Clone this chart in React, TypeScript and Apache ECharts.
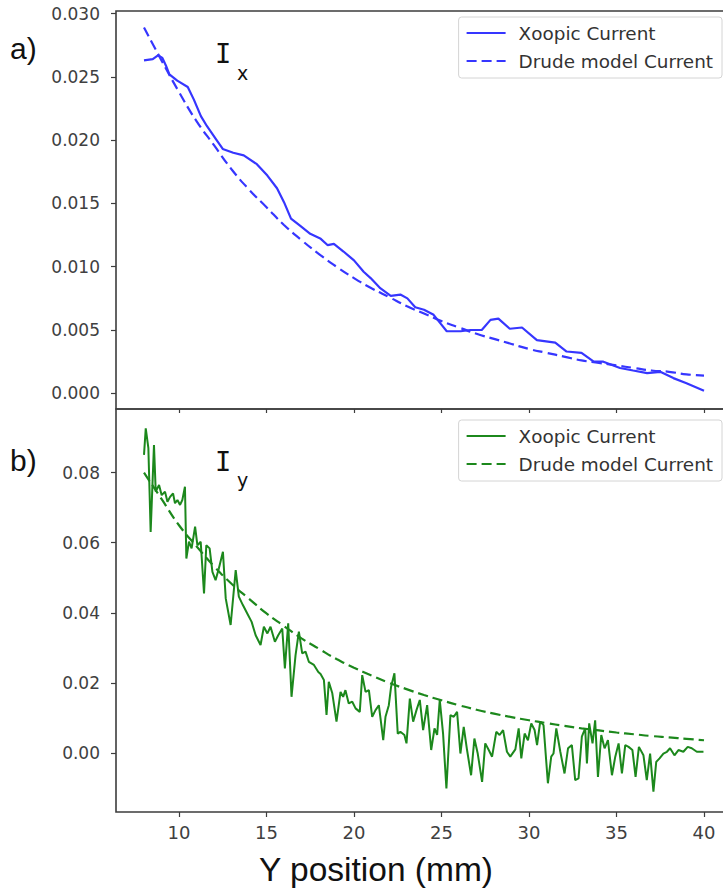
import { useEffect, useRef } from "react";
import * as echarts from "echarts";

// Y position (mm) of each sample of the simulated x-current
const ixPos = [
  8.0, 8.5, 8.8, 9.05, 9.25, 9.45, 9.9, 10.5, 10.85, 11.25, 11.6, 12.1, 12.5, 13.1, 13.7, 14.45,
  15.05, 15.6, 16.0, 16.4, 16.95, 17.5, 18.1, 18.5, 18.85, 19.4, 20.0, 20.55, 20.95, 21.5, 22.1,
  22.65, 23.05, 23.5, 24.0, 24.55, 24.95, 25.3, 26.1, 26.65, 27.3, 27.8, 28.25, 28.9, 29.6, 30.45,
  31.5, 32.15, 33.0, 33.7, 34.25, 35.2, 35.95, 36.75, 37.5, 38.25, 39.0, 40.0,
];
const ixXoopic = [
  0.0263, 0.0264, 0.0267, 0.0265, 0.0259, 0.0252, 0.0247, 0.0242, 0.0232, 0.0219, 0.0211, 0.0201,
  0.0193, 0.019, 0.0188, 0.0181, 0.0172, 0.0162, 0.0151, 0.0138, 0.0132, 0.0126, 0.0122, 0.0117,
  0.0118, 0.0112, 0.0105, 0.0096, 0.0091, 0.0083, 0.0077, 0.0078, 0.0075, 0.0068, 0.0066, 0.0062,
  0.0055, 0.0049, 0.0049, 0.005, 0.005, 0.0058, 0.0059, 0.0051, 0.0052, 0.0042, 0.004, 0.0033,
  0.0032, 0.0025, 0.0025, 0.002, 0.0018, 0.0016, 0.0017, 0.0012, 0.0008, 0.0002,
];

// Drude model, sampled every millimetre
const drudePos = [
  8, 9, 10, 11, 12, 13, 14, 15, 16, 17, 18, 19, 20, 21, 22, 23, 24, 25, 26, 27, 28, 29, 30, 31,
  32, 33, 34, 35, 36, 37, 38, 39, 40,
];
const ixDrude = [
  0.0289, 0.0263, 0.0238, 0.0215, 0.0196, 0.0177, 0.0161, 0.0147, 0.0133, 0.0121, 0.011, 0.01,
  0.0091, 0.0083, 0.0076, 0.0069, 0.0063, 0.0057, 0.0052, 0.0047, 0.0043, 0.0039, 0.0035, 0.0032,
  0.0029, 0.0026, 0.0024, 0.0022, 0.002, 0.0018, 0.0017, 0.0015, 0.0014,
];
const iyDrude = [
  0.08, 0.0725, 0.065, 0.059, 0.0533, 0.0483, 0.044, 0.0398, 0.0362, 0.0327, 0.0297, 0.0268,
  0.0243, 0.0221, 0.02, 0.0182, 0.0165, 0.015, 0.0136, 0.0123, 0.0112, 0.0102, 0.0093, 0.0085,
  0.0077, 0.007, 0.0064, 0.0058, 0.0053, 0.0048, 0.0044, 0.004, 0.0036,
];

// Simulated y-current
const iyPos = [
  8.0, 8.1, 8.25, 8.38, 8.57, 8.67, 8.86, 9.01, 9.2, 9.34, 9.49, 9.66, 9.77, 9.91, 10.06, 10.19,
  10.34, 10.42, 10.57, 10.72, 10.92, 11.05, 11.24, 11.43, 11.56, 11.75, 11.91, 12.09, 12.28, 12.51,
  12.67, 12.95, 13.24, 13.42, 13.65, 13.9, 14.15, 14.38, 14.66, 14.85, 15.05, 15.23, 15.48, 15.67,
  15.9, 16.05, 16.24, 16.43, 16.66, 16.85, 17.04, 17.23, 17.42, 17.71, 17.96, 18.09, 18.28, 18.43,
  18.56, 18.76, 19.0, 19.23, 19.38, 19.51, 19.7, 19.9, 20.09, 20.33, 20.47, 20.66, 20.85, 21.04,
  21.23, 21.42, 21.67, 21.8, 21.99, 22.12, 22.31, 22.5, 22.65, 22.88, 23.0, 23.19, 23.38, 23.57,
  23.76, 23.95, 24.18, 24.41, 24.6, 24.75, 24.9, 25.09, 25.28, 25.51, 25.7, 25.89, 26.08, 26.27,
  26.46, 26.69, 26.88, 27.07, 27.32, 27.5, 27.7, 27.89, 28.13, 28.32, 28.52, 28.74, 28.93, 29.22,
  29.41, 29.56, 29.75, 29.94, 30.13, 30.32, 30.46, 30.64, 30.83, 31.08, 31.27, 31.4, 31.56, 31.79,
  32.03, 32.23, 32.45, 32.64, 32.83, 33.02, 33.21, 33.31, 33.44, 33.63, 33.78, 33.94, 34.13, 34.32,
  34.51, 34.74, 34.93, 35.12, 35.31, 35.5, 35.69, 35.91, 36.09, 36.28, 36.54, 36.73, 36.92, 37.11,
  37.27, 37.46, 37.68, 37.88, 38.06, 38.31, 38.54, 38.82, 39.07, 39.3, 39.59, 39.97,
];
const iyXoopic = [
  0.0851, 0.0927, 0.087, 0.0631, 0.0879, 0.0746, 0.0765, 0.0736, 0.0746, 0.0717, 0.0731, 0.0741,
  0.0713, 0.0722, 0.0708, 0.0722, 0.076, 0.0555, 0.0603, 0.0584, 0.0646, 0.0593, 0.0603, 0.0455,
  0.0593, 0.0584, 0.0517, 0.0493, 0.0527, 0.0574, 0.0441, 0.0365, 0.0522, 0.0446, 0.0422, 0.0398,
  0.0374, 0.0336, 0.0308, 0.036, 0.0341, 0.036, 0.0317, 0.0336, 0.0355, 0.0241, 0.037, 0.016,
  0.0279, 0.0346, 0.0284, 0.0289, 0.026, 0.0251, 0.0231, 0.0225, 0.0208, 0.0108, 0.0203, 0.017,
  0.0089, 0.0174, 0.016, 0.0179, 0.0141, 0.0146, 0.0127, 0.0117, 0.0222, 0.0174, 0.0179, 0.0103,
  0.0122, 0.0136, 0.0036, 0.0103, 0.0136, 0.0189, 0.0227, 0.0055, 0.006, 0.0051, 0.0027, 0.0155,
  0.0089, 0.0122, 0.0151, 0.0065, 0.0136, 0.0008, 0.007, 0.0051, 0.0151, 0.0055, -0.0102, 0.0108,
  0.0103, 0.0117, -0.0002, 0.0074, 0.0008, -0.0064, 0.0041, -0.0002, -0.0083, 0.0027, 0.0008,
  -0.0011, 0.006, 0.0051, 0.0065, 0.0003, -0.0011, 0.001, 0.007, -0.0016, 0.0055, 0.0036, 0.0084,
  0.0065, 0.0022, 0.0089, 0.0079, -0.0087, -0.0011, -0.0002, 0.007, 0.0003, -0.0059, 0.0013,
  0.0022, -0.0078, -0.0073, 0.0046, 0.007, -0.003, 0.0084, 0.0027, 0.0093, -0.0069, 0.0051, 0.0013,
  0.0036, -0.0064, -0.0011, 0.0027, -0.0059, 0.0022, 0.0017, 0.0008, -0.0069, 0.0017, -0.0007,
  -0.0078, -0.0002, -0.0111, -0.0026, -0.0016, -0.0002, 0.0003, 0.0013, -0.0007, 0.0008, 0.0003,
  0.0017, 0.0013, 0.0003, 0.0003,
];

const xTicks = [10, 15, 20, 25, 30, 35, 40];
const ixTicks = [0, 0.005, 0.01, 0.015, 0.02, 0.025, 0.03];
const iyTicks = [0, 0.02, 0.04, 0.06, 0.08];
const legendLabels = ["Xoopic Current", "Drude model Current"];

const BLUE = "#3636ff";
const GREEN = "#1c881c";
const FRAME = "#3d3d3d";
const TICK_TEXT = "#404040";
const SANS = "'DejaVu Sans', sans-serif";

const pairs = (xs: number[], ys: number[]) => xs.map((x, i) => [x, ys[i]]);

function legendFor(names: string[], top: number) {
  return {
    orient: "vertical",
    right: 1,
    top,
    data: names,
    itemWidth: 39,
    itemHeight: 14,
    itemGap: 8,
    padding: [6, 9, 7, 7],
    borderColor: "#d4d4d4",
    borderWidth: 1,
    borderRadius: 3,
    backgroundColor: "rgba(255,255,255,0.85)",
    selectedMode: false,
    // line-only handles, no marker in the middle
    itemStyle: { color: "transparent", borderWidth: 0, opacity: 0 },
    formatter: (n: string) => n.replace(" (y)", ""),
    textStyle: {
      fontFamily: SANS,
      fontSize: 18.4,
      lineHeight: 20,
      color: "#333",
      padding: [0, 0, 0, 8],
    },
  };
}

export default function App() {
  const ref = useRef<HTMLDivElement>(null);

  useEffect(() => {
    if (!ref.current) return;
    const chart = echarts.init(ref.current, null, { renderer: "svg" });

    const grids = [
      { left: 116, top: 11, width: 616, height: 398 },
      { left: 116, top: 409, width: 616, height: 403 },
    ].map((g) => ({
      ...g,
      show: true,
      borderColor: FRAME,
      borderWidth: 1.6,
      containLabel: false,
      outerBoundsMode: "none",
    }));

    const yAxisBase = (gridIndex: number, min: number, max: number, ticks: number[], digits: number) => ({
      type: "value",
      gridIndex,
      min,
      max,
      axisLine: { show: false, onZero: false },
      splitLine: { show: false },
      axisTick: { show: true, length: 5, customValues: ticks, lineStyle: { color: FRAME, width: 1.2 } },
      axisLabel: {
        show: true,
        customValues: ticks,
        margin: 16,
        fontFamily: SANS,
        fontSize: 17,
        color: TICK_TEXT,
        formatter: (v: number) => v.toFixed(digits),
      },
    });

    chart.setOption({
      animation: false,
      backgroundColor: "#ffffff",
      grid: grids,
      xAxis: [
        {
          type: "value",
          gridIndex: 0,
          min: 6.4,
          max: 41.6,
          axisLine: { show: false, onZero: false },
          splitLine: { show: false },
          axisTick: { show: true, length: 4, customValues: xTicks, lineStyle: { color: FRAME, width: 1.2 } },
          axisLabel: { show: false, customValues: xTicks },
        },
        {
          type: "value",
          gridIndex: 1,
          min: 6.4,
          max: 41.6,
          axisLine: { show: false, onZero: false },
          splitLine: { show: false },
          axisTick: { show: true, length: 5, customValues: xTicks, lineStyle: { color: FRAME, width: 1.2 } },
          axisLabel: {
            show: true,
            customValues: xTicks,
            margin: 11,
            fontFamily: SANS,
            fontSize: 18,
            color: TICK_TEXT,
          },
        },
      ],
      yAxis: [
        yAxisBase(0, -0.00124, 0.0302, ixTicks, 3),
        yAxisBase(1, -0.0169, 0.0982, iyTicks, 2),
      ],
      legend: [
        legendFor([legendLabels[0], legendLabels[1]], 17),
        legendFor([legendLabels[0] + " (y)", legendLabels[1] + " (y)"], 420),
      ],
      series: [
        {
          name: legendLabels[0],
          type: "line",
          xAxisIndex: 0,
          yAxisIndex: 0,
          data: pairs(ixPos, ixXoopic),
          symbol: "none",
          color: BLUE,
          lineStyle: { color: BLUE, width: 2.2 },
        },
        {
          name: legendLabels[1],
          type: "line",
          xAxisIndex: 0,
          yAxisIndex: 0,
          data: pairs(drudePos, ixDrude),
          symbol: "none",
          smooth: true,
          color: BLUE,
          lineStyle: { color: BLUE, width: 2.2, type: [10, 5] },
        },
        {
          name: legendLabels[0] + " (y)",
          type: "line",
          xAxisIndex: 1,
          yAxisIndex: 1,
          data: pairs(iyPos, iyXoopic),
          symbol: "none",
          color: GREEN,
          lineStyle: { color: GREEN, width: 2 },
        },
        {
          name: legendLabels[1] + " (y)",
          type: "line",
          xAxisIndex: 1,
          yAxisIndex: 1,
          data: pairs(drudePos, iyDrude),
          symbol: "none",
          smooth: true,
          color: GREEN,
          lineStyle: { color: GREEN, width: 2.2, type: [10, 5] },
        },
      ],
      graphic: [
        { type: "text", x: 10, y: 48, style: { text: "a)", fill: "#111", font: "30px 'Liberation Sans', sans-serif", verticalAlign: "middle" } },
        { type: "text", x: 10, y: 460, style: { text: "b)", fill: "#111", font: "30px 'Liberation Sans', sans-serif", verticalAlign: "middle" } },
        { type: "text", x: 215, y: 53, style: { text: "I", fill: "#111", font: "27px 'DejaVu Sans Mono', monospace", verticalAlign: "middle" } },
        { type: "text", x: 237, y: 73, style: { text: "x", fill: "#111", font: "19px 'DejaVu Sans', sans-serif", verticalAlign: "middle" } },
        { type: "text", x: 215, y: 461, style: { text: "I", fill: "#111", font: "27px 'DejaVu Sans Mono', monospace", verticalAlign: "middle" } },
        { type: "text", x: 237, y: 480, style: { text: "y", fill: "#111", font: "19px 'DejaVu Sans', sans-serif", verticalAlign: "middle" } },
        { type: "text", x: 376, y: 869, style: { text: "Y position (mm)", fill: "#111", font: "33.5px 'Liberation Sans', sans-serif", align: "center", verticalAlign: "middle" } },
      ],
    });

    return () => chart.dispose();
  }, []);

  return (
    <div
      ref={ref}
      style={{ position: "absolute", left: 0, top: 0, width: 723, height: 890, background: "#fff" }}
    />
  );
}
